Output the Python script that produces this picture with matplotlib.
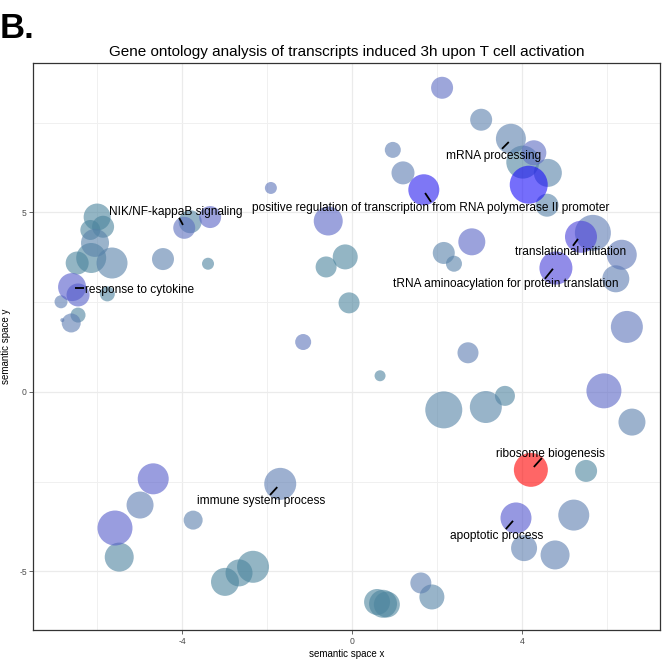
import matplotlib
matplotlib.use("Agg")
import matplotlib.pyplot as plt
from matplotlib.colors import LinearSegmentedColormap, Normalize
import numpy as np

plt.rcParams['font.family'] = ['Liberation Sans', 'DejaVu Sans']
plt.rcParams['axes.unicode_minus'] = False

# Semantic-space coordinates of the enriched GO terms
sem_x = [2.12, 3.04, 3.74, 4.28, 4.02, 4.61, 4.16, 4.59, 0.96, 1.20, 1.69,
         -1.91, -0.56, -0.16, -0.61, 2.16, 2.40, 2.82, 5.39, 5.67, 6.35, 4.80,
         6.21, -0.07, -1.15, 0.66, 2.73, 2.16, 3.15, 3.60, 6.47, 5.93, 6.59,
         4.21, 5.51, 3.86, 5.22, 4.05, 4.78, 1.62, 1.88, 0.59, 0.73, 0.82,
         -4.68, -4.99, -5.58, -5.48, -3.74, -1.69, -2.33, -2.66, -2.99,
         -6.00, -6.16, -5.86, -6.05, -6.14, -6.47, -5.65, -4.45, -3.39,
         -3.95, -3.81, -3.34, -6.59, -6.45, -5.76, -6.85, -6.45, -6.61, -6.82]
sem_y = [8.47, 7.58, 7.05, 6.66, 6.40, 6.10, 5.77, 5.20, 6.74, 6.10, 5.63,
         5.68, 4.76, 3.76, 3.48, 3.87, 3.57, 4.18, 4.32, 4.43, 3.82, 3.45,
         3.15, 2.48, 1.39, 0.45, 1.09, -0.50, -0.42, -0.11, 1.81, 0.03, -0.84,
         -2.17, -2.20, -3.51, -3.43, -4.35, -4.54, -5.32, -5.71, -5.85, -5.90, -5.92,
         -2.42, -3.15, -3.79, -4.60, -3.57, -2.56, -4.87, -5.04, -5.29,
         4.87, 4.51, 4.60, 4.15, 3.73, 3.59, 3.59, 3.70, 3.57,
         4.57, 4.74, 4.87, 2.92, 2.70, 2.73, 2.51, 2.14, 1.92, 2.00]
# Term size (log scale)
plot_size = [2.2, 2.2, 3.0, 2.5, 3.3, 2.8, 3.8, 2.3, 1.6, 2.3, 3.1,
             1.2, 2.9, 2.5, 2.1, 2.2, 1.6, 2.7, 3.2, 3.6, 3.0, 3.3,
             2.7, 2.1, 1.6, 1.1, 2.1, 3.7, 3.2, 2.0, 3.2, 3.5, 2.7,
             3.4, 2.2, 3.1, 3.1, 2.6, 2.9, 2.1, 2.5, 2.6, 2.8, 2.6,
             3.1, 2.7, 3.5, 2.9, 1.9, 3.2, 3.2, 2.7, 2.8,
             2.7, 2.0, 2.2, 2.8, 3.0, 2.3, 3.1, 2.2, 1.2,
             2.2, 2.3, 2.2, 2.8, 2.3, 1.5, 1.3, 1.5, 1.9, 0.4]
# Significance (-log10 p-value)
neg_log10_p = [4.0, 3.0, 3.0, 4.0, 2.3, 2.7, 7.0, 2.7, 3.2, 3.2, 6.5,
               3.6, 4.2, 2.2, 2.2, 2.8, 2.8, 4.2, 5.5, 3.3, 3.5, 5.5,
               3.2, 2.2, 3.6, 2.3, 3.2, 2.6, 2.6, 2.3, 3.6, 4.2, 3.0,
               12.0, 2.2, 4.8, 3.1, 3.1, 3.1, 3.1, 2.6, 2.2, 2.2, 2.2,
               4.5, 3.2, 4.5, 2.3, 3.0, 3.2, 2.2, 2.2, 2.2,
               2.2, 2.2, 2.2, 2.8, 2.2, 2.2, 2.8, 3.0, 2.3,
               3.8, 2.4, 4.3, 4.6, 4.4, 2.3, 3.2, 2.3, 3.2, 3.2]

# Labelled terms: text, text anchor and leader segment (data units)
label_text = ["NIK/NF-kappaB signaling", "response to cytokine",
              "positive regulation of transcription from RNA polymerase II promoter",
              "mRNA processing", "translational initiation",
              "tRNA aminoacylation for protein translation",
              "ribosome biogenesis", "apoptotic process", "immune system process"]
label_x = [-4.16, -5.01, 1.86, 3.34, 5.15, 3.62, 4.66, 3.41, -2.14]
label_y = [5.01, 2.84, 5.13, 6.57, 3.90, 3.01, -1.73, -4.01, -3.04]
seg_x0 = [-4.07, -6.52, 1.72, 3.53, 5.20, 4.54, 4.28, 3.62, -1.93]
seg_y0 = [4.85, 2.90, 5.54, 6.77, 4.07, 3.15, -2.09, -3.82, -2.87]
seg_x1 = [-3.98, -6.31, 1.86, 3.69, 5.32, 4.73, 4.47, 3.79, -1.76]
seg_y1 = [4.65, 2.90, 5.29, 6.96, 4.26, 3.43, -1.84, -3.59, -2.65]

x_ticks = [-4, 0, 4]
y_ticks = [-5, 0, 5]

sig_cmap = LinearSegmentedColormap.from_list(
    "sig", [(0.0, (0.28, 0.52, 0.60)), (0.1, (0.36, 0.50, 0.68)),
            (0.2, (0.36, 0.42, 0.76)), (0.35, (0.28, 0.25, 0.85)),
            (0.5, (0.10, 0.05, 0.98)), (1.0, (1.0, 0.0, 0.0))])
norm = Normalize(vmin=2, vmax=12)

fig = plt.figure(figsize=(6.62, 6.67), dpi=100)
ax = fig.add_axes([33 / 662, 37 / 667, 627 / 662, 567 / 667])

order = np.argsort(neg_log10_p, kind="stable")
sx = np.array(sem_x)[order]
sy = np.array(sem_y)[order]
ss = (np.array(plot_size)[order] * 10 * 0.72) ** 2
sc = np.array(neg_log10_p)[order]
ax.scatter(sx, sy, s=ss, c=sc, cmap=sig_cmap, norm=norm, alpha=0.6,
           linewidths=0, zorder=3)

for t, lx, ly, x0, y0, x1, y1 in zip(label_text, label_x, label_y,
                                      seg_x0, seg_y0, seg_x1, seg_y1):
    ax.plot([x0, x1], [y0, y1], color="black", lw=1.3, zorder=4,
            solid_capstyle="butt")
    ax.text(lx, ly, t, ha="center", va="center", fontsize=8.6,
            color="black", zorder=5)

ax.set_xlim(-7.51, 7.25)
ax.set_ylim(-6.63, 9.16)
ax.set_xticks(x_ticks)
ax.set_yticks(y_ticks)
ax.set_xticks([-6, -2, 2, 6], minor=True)
ax.set_yticks([-2.5, 2.5, 7.5], minor=True)
ax.grid(True, which="major", color="#ebebeb", lw=0.9, zorder=0)
ax.grid(True, which="minor", color="#f0f0f0", lw=0.7, zorder=0)
ax.set_axisbelow(True)
ax.tick_params(which="major", length=3, width=0.6, color="#4d4d4d",
               labelsize=6.2, labelcolor="#4d4d4d", pad=2)
ax.tick_params(axis="y", which="major", pad=1.5)
ax.tick_params(which="minor", length=0)
for sp in ax.spines.values():
    sp.set_color("#333333")
    sp.set_linewidth(0.9)

ax.set_xlabel("semantic space x", fontsize=7, labelpad=2)
ax.set_ylabel("semantic space y", fontsize=7)
ax.yaxis.set_label_coords(-0.035, 0.5)
ax.set_title("Gene ontology analysis of transcripts induced 3h upon T cell activation",
             fontsize=11, pad=5)
fig.text(0.0, 0.982, "B.", fontsize=25, fontweight="bold", ha="left", va="top")

fig.savefig("out.png", dpi=100)
